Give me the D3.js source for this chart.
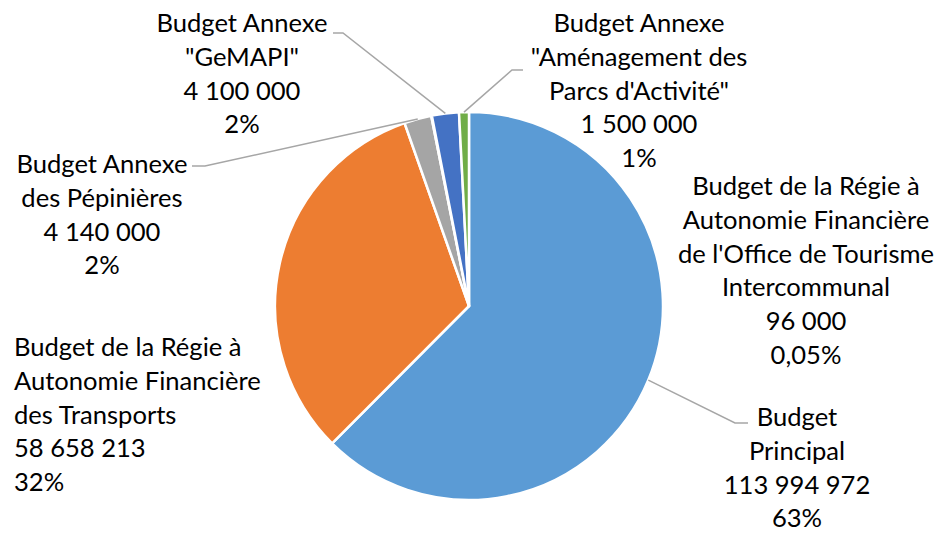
<!DOCTYPE html>
<html>
<head>
<meta charset="utf-8">
<script src="https://cdn.jsdelivr.net/npm/d3@7.9.0/dist/d3.min.js"></script>
<style>
  html, body { margin: 0; padding: 0; background: #fff; }
  svg { display: block; }
</style>
</head>
<body>
<svg id="chart" width="941" height="533"></svg>
<script>
// data, in the order of the workbook (clockwise from 12 o'clock)
const nameLines = [
    ["Budget", "Principal"],
    ["Budget de la Régie à", "Autonomie Financière", "des Transports"],
    ["Budget Annexe", "des Pépinières"],
    ["Budget de la Régie à", "Autonomie Financière", "de l'Office de Tourisme", "Intercommunal"],
    ["Budget Annexe", "\"GeMAPI\""],
    ["Budget Annexe", "\"Aménagement des", "Parcs d'Activité\""]
];
const values = [113994972, 58658213, 4140000, 96000, 4100000, 1500000];
const percentLabels = ["63%", "32%", "2%", "0,05%", "2%", "1%"];

const colors = ["#5B9BD5", "#ED7D31", "#A5A5A5", "#FFC000", "#4472C4", "#70AD47"];

// where each label block sits, and its leader line (elbow, end)
const labelLayout = [
    { x: 797, y: 426, anchor: "middle", leader: [[735, 423], [748, 423]] },
    { x: 14, y: 356, anchor: "start", leader: null },
    { x: 102, y: 173, anchor: "middle", leader: [[205, 166], [192, 166]] },
    { x: 806, y: 195, anchor: "middle", leader: null },
    { x: 242, y: 32, anchor: "middle", leader: [[343, 33], [333, 33]] },
    { x: 639, y: 32, anchor: "middle", leader: [[512, 70], [523, 70]] }
];

const svg = d3.select("#chart");
const cx = 469, cy = 306, radius = 194;
const lineHeight = 33.8;

const fr = d3.formatLocale({ decimal: ",", thousands: " ", grouping: [3], currency: ["", " €"] });
const fmt = fr.format(",d");

// size the font so that "Budget Annexe" is as wide as in the original
const probe = svg.append("text")
    .style("font-family", "Lato, 'Open Sans', sans-serif")
    .style("font-size", "28px")
    .text("Budget Annexe");
const probeW = probe.node().getComputedTextLength();
probe.remove();
const fontSize = 28 * 171 / probeW;

const pie = d3.pie().sort(null).value(d => d).startAngle(0).endAngle(2 * Math.PI);
const arcs = pie(values);

const arc = d3.arc().innerRadius(0).outerRadius(radius);

const g = svg.append("g").attr("transform", `translate(${cx},${cy})`);

g.selectAll("path.slice")
    .data(arcs)
    .enter().append("path")
    .attr("class", "slice")
    .attr("d", arc)
    .attr("fill", (d, i) => colors[i])
    .attr("stroke", "#fff")
    .attr("stroke-width", 2.5)
    .attr("stroke-linejoin", "round");

// leader lines
const edgePoint = d => {
    const a = (d.startAngle + d.endAngle) / 2;
    return [cx + radius * Math.sin(a), cy - radius * Math.cos(a)];
};

svg.selectAll("polyline.leader")
    .data(arcs.filter((d, i) => labelLayout[i].leader))
    .enter().append("polyline")
    .attr("class", "leader")
    .attr("points", d => [edgePoint(d), ...labelLayout[d.index].leader].map(p => p.join(",")).join(" "))
    .attr("fill", "none")
    .attr("stroke", "#A6A6A6")
    .attr("stroke-width", 1.5);

// labels
const labels = svg.selectAll("text.label")
    .data(arcs)
    .enter().append("text")
    .attr("class", "label")
    .attr("text-anchor", (d, i) => labelLayout[i].anchor)
    .style("font-family", "Lato, 'Open Sans', sans-serif")
    .style("font-size", fontSize + "px")
    .attr("fill", "#000");

labels.each(function (d, i) {
    const lines = [...nameLines[i], fmt(values[i]), percentLabels[i]];
    const lay = labelLayout[i];
    d3.select(this).selectAll("tspan")
        .data(lines)
        .enter().append("tspan")
        .attr("x", lay.x)
        .attr("y", (t, k) => lay.y + k * lineHeight)
        .text(t => t);
});
</script>
</body>
</html>
